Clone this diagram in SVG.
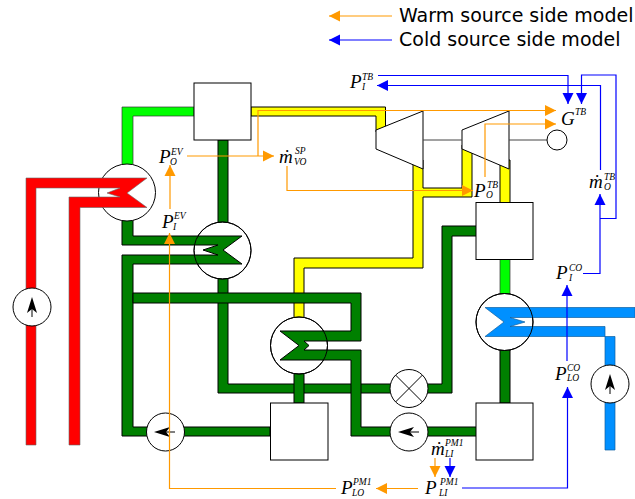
<svg xmlns="http://www.w3.org/2000/svg" width="635" height="499" viewBox="0 0 635 499">
<style>
.dg{fill:#008000;stroke:#000;stroke-width:1}
.lg{fill:#00ff00;stroke:#333;stroke-width:.7}
.ye{fill:#ffff00;stroke:#000;stroke-width:1}
.re{fill:#ff0000;stroke:#666;stroke-width:.6}
.bl{fill:#0090ff;stroke:#1060a0;stroke-width:.7}
.wh{fill:#fff;stroke:#000;stroke-width:1}
.ring{fill:none;stroke:#000;stroke-width:1}
.thin{fill:none;stroke:#000;stroke-width:1}
.ar{fill:#000;stroke:none}
.or{fill:none;stroke:#ff9900;stroke-width:1.2;marker-end:url(#ah-o)}
.bu{fill:none;stroke:#0000ff;stroke-width:1.2;marker-end:url(#ah-b)}
.leg{font-family:"DejaVu Sans",sans-serif;font-size:19px;fill:#000}
.v{font-family:"Liberation Serif",serif;font-style:italic;font-size:19px;fill:#000}
.s{font-family:"Liberation Serif",serif;font-style:italic;font-size:9.500px;fill:#000}
</style>
<defs>
<marker id="ah-o" markerUnits="userSpaceOnUse" markerWidth="12" markerHeight="12" refX="11" refY="6" orient="auto"><path d="M0 .5L11 6L0 11.500Z" fill="#ff9900"/></marker>
<marker id="ah-b" markerUnits="userSpaceOnUse" markerWidth="12" markerHeight="12" refX="11" refY="6" orient="auto"><path d="M0 .5L11 6L0 11.500Z" fill="#0000ff"/></marker>
</defs>

<g id="pipes">
<polygon class="lg" points="122,170 122,107 194,107 194,116 133,116 133,170"/>
<polygon class="lg" points="500,259 510,259 510,300 500,300"/>
<polygon class="ye" points="251,107 385.500,107 385.500,128 376,132 376,116 251,116"/>
<polygon class="ye" points="294,325 294,258 413,258 413,160 423,160 423,188 462,188 462,145 472,145 472,197 423,197 423,268 304,268 304,325"/>
<polygon class="ye" points="500,160 510,160 510,203 500,203"/>
<rect class="dg" x="218" y="140" width="10" height="90"/>
<polygon class="dg" points="218,270 228,270 228,384 442,384 442,226 478,226 478,236 452,236 452,393 218,393"/>
<rect class="dg" x="294" y="365" width="10" height="38"/>
<rect class="dg" x="500" y="340" width="10" height="63"/>
</g>

<g id="preheater">
<circle class="wh" cx="222.500" cy="250.500" r="28.500"/>
<polygon class="dg" points="133,215 133,236 242,236 223,250 242,264 133,264 133,427 270,427 270,436 122,436 122,255 218,255 203,250 218,245 122,245 122,215"/>
<circle class="ring" cx="222.500" cy="250.500" r="28.500"/>
</g>
<g id="evaporator">
<circle class="wh" cx="127" cy="192.500" r="28.500"/>
<polygon class="re" points="26,445 26,178 147,178 127,193 147,207.500 80,207.500 80,445 69,445 69,197 120,197 107,193 120,188 36,188 36,445"/>
</g>
<g id="recuperator">
<circle class="wh" cx="299" cy="345.500" r="28.500"/>
<polygon class="dg" points="133,293 361,293 361,341 304,341 309,345.500 304,350 361,350 361,427 478,427 478,436 351,436 351,360 280,360 299,345.500 280,331 351,331 351,303 133,303"/>
<circle class="ring" cx="299" cy="345.500" r="28.500"/>
</g>
<g id="condenser">
<circle class="wh" cx="504.500" cy="322" r="28.500"/>
<polygon class="bl" points="635,307.500 485,307.500 504,322 485,336.500 615,336.500 615,450 605,450 605,326.500 510,326.500 525,322 510,317.500 635,317.500"/>
<circle class="ring" cx="504.500" cy="322" r="28.500"/>
</g>
<g id="box-separator"><rect class="wh" x="194" y="83" width="57" height="57"/></g>
<g id="box-reheater"><rect class="wh" x="476" y="202.500" width="57" height="57"/></g>
<g id="box-tank-left"><rect class="wh" x="270.500" y="403" width="57.500" height="57"/></g>
<g id="box-tank-right"><rect class="wh" x="476" y="403" width="57" height="57"/></g>
<g id="turbine-hp"><polygon class="wh" points="376,130 423,111 423,169 376,149"/></g>
<g id="turbine-lp"><polygon class="wh" points="462,130 509,111 509,169 462,149"/></g>
<g id="shaft"><path class="thin" style="stroke:#444" d="M423 140H462M509 140H547"/></g>
<g id="generator"><circle class="wh" cx="557" cy="140" r="10"/></g>
<g id="pump-hot"><circle class="wh" cx="32" cy="307" r="19"/><path class="thin" d="M32 305V317"/><path class="ar" d="M32 297L37 313L32 309L27 313Z"/></g>
<g id="pump-cold"><circle class="wh" cx="610" cy="384" r="19"/><path class="thin" d="M610 382V394"/><path class="ar" d="M610 374L615 390L610 386L605 390Z"/></g>
<g id="pump-left"><circle class="wh" cx="165.500" cy="432" r="19"/><path class="thin" d="M165 432H175"/><path class="ar" d="M154 432L170 427L166 432L170 437Z"/></g>
<g id="pump-main"><circle class="wh" cx="409" cy="432" r="19"/><path class="thin" d="M409 432H419"/><path class="ar" d="M398 432L414 427L410 432L414 437Z"/></g>
<g id="valve"><circle class="wh" cx="409" cy="388.500" r="19"/><path class="thin" d="M395.500 375L422.500 402M422.500 375L395.500 402"/></g>

<g id="connectors">
<path class="or" d="M392 16H329"/>
<path class="bu" d="M392 40H329"/>
<path class="or" d="M187 156H274"/>
<path class="or" d="M170 209V165"/>
<path class="or" d="M336 488.500H169.500V233"/>
<path class="or" d="M418 488.500H376"/>
<path class="or" d="M435 458V477"/>
<path class="bu" d="M450 458V477"/>
<path class="or" d="M258 156V110.500H556"/>
<path class="or" d="M287 166V190.500H473"/>
<path class="or" d="M485 177V124H556"/>
<path class="bu" d="M378 75.500H568V104"/>
<path class="bu" d="M583 273.500H600V194"/>
<path class="bu" d="M600 218.500H616V75H581.500V104"/>
<path class="bu" d="M600.500 170V85.500H377"/>
<path class="bu" d="M567 361V285"/>
<path class="bu" d="M462 488H567.500V387"/>
</g>

<g id="legend">
<text class="leg" x="399" y="22">Warm source side model</text>
<text class="leg" x="399" y="46">Cold source side model</text>
</g>
<g id="labels">
<g id="l-po-ev"><text class="v" x="159" y="163">P</text><text class="s" x="171" y="155">EV</text><text class="s" x="170" y="165">O</text></g>
<g id="l-pi-ev"><text class="v" x="162" y="228">P</text><text class="s" x="174" y="219">EV</text><text class="s" x="173" y="230">I</text></g>
<g id="l-m-vo"><text class="v" x="279" y="163">ṁ</text><text class="s" x="295" y="154">SP</text><text class="s" x="294" y="165">VO</text></g>
<g id="l-g-tb"><text class="v" x="561" y="125">G</text><text class="s" x="575" y="115">TB</text></g>
<g id="l-pi-tb"><text class="v" x="350" y="88">P</text><text class="s" x="362" y="80">TB</text><text class="s" x="362" y="90">I</text></g>
<g id="l-po-tb"><text class="v" x="474" y="197">P</text><text class="s" x="487" y="188">TB</text><text class="s" x="486" y="198">O</text></g>
<g id="l-m-tb"><text class="v" x="589" y="188">ṁ</text><text class="s" x="604" y="180">TB</text><text class="s" x="604" y="190">O</text></g>
<g id="l-pi-co"><text class="v" x="556" y="279">P</text><text class="s" x="569" y="271">CO</text><text class="s" x="569" y="281">I</text></g>
<g id="l-plo-co"><text class="v" x="555" y="380">P</text><text class="s" x="567" y="371">CO</text><text class="s" x="567" y="381">LO</text></g>
<g id="l-m-pm"><text class="v" x="431" y="455">ṁ</text><text class="s" x="445" y="446">PM1</text><text class="s" x="445" y="457">LI</text></g>
<g id="l-pli-pm"><text class="v" x="425" y="494">P</text><text class="s" x="440" y="485">PM1</text><text class="s" x="439" y="496">LI</text></g>
<g id="l-plo-pm"><text class="v" x="341" y="494">P</text><text class="s" x="353" y="485">PM1</text><text class="s" x="352" y="496">LO</text></g>
</g>
</svg>
